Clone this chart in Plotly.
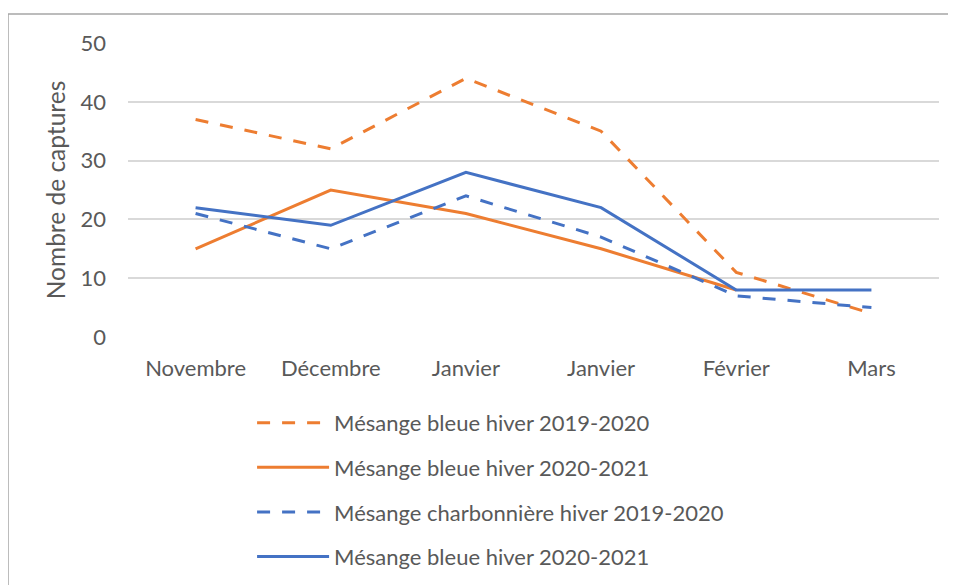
import plotly.graph_objects as go

categories = ["Novembre", "Décembre", "Janvier", "Janvier", "Février", "Mars"]
bleue_2019 = [37, 32, 44, 35, 11, 4]
bleue_2020 = [15, 25, 21, 15, 8, None]
charbon_2019 = [21, 15, 24, 17, 7, 5]
bleue_2020b = [22, 19, 28, 22, 8, 8]
y_ticks = [0, 10, 20, 30, 40, 50]

names = ["Mésange bleue hiver 2019-2020", "Mésange bleue hiver 2020-2021",
         "Mésange charbonnière hiver 2019-2020", "Mésange bleue hiver 2020-2021"]
series = [bleue_2019, bleue_2020, charbon_2019, bleue_2020b]
colors = ["#ED7D31", "#ED7D31", "#4472C4", "#4472C4"]
dashes = ["13px,12px", "solid", "13px,12px", "solid"]

x_idx = list(range(len(categories)))
FONT = "Lato"
GRAY = "#595959"

fig = go.Figure()
for i, (nm, vals, c, d) in enumerate(zip(names, series, colors, dashes)):
    fig.add_trace(go.Scatter(
        x=x_idx, y=vals, name=nm, mode="lines",
        line=dict(color=c, width=3, dash=d),
        legendgroup=f"g{i}", connectgaps=False,
    ))

fig.update_layout(
    width=948, height=577,
    margin=dict(l=120, r=17, t=35, b=248, autoexpand=False),
    paper_bgcolor="white", plot_bgcolor="white",
    font=dict(family=FONT, color=GRAY, size=22),
    showlegend=True,
    legend=dict(
        orientation="v", x=0.153, y=-0.221, xanchor="left", yanchor="top",
        font=dict(size=22, color=GRAY, family=FONT),
        tracegroupgap=13, itemwidth=72,
        bgcolor="rgba(0,0,0,0)",
    ),
    xaxis=dict(
        range=[-0.5, 5.5], tickvals=x_idx, ticktext=categories,
        showgrid=False, zeroline=False, showline=False, ticks="",
        tickfont=dict(size=22, color=GRAY, family=FONT), ticklabelstandoff=16,
        fixedrange=True,
    ),
    yaxis=dict(
        range=[0, 50], tickvals=y_ticks, showgrid=True, gridcolor="#D9D9D9",
        gridwidth=1.5, zeroline=False, showline=False, ticks="",
        tickfont=dict(size=22, color=GRAY, family=FONT), ticklabelstandoff=21,
        title=dict(text="Nombre de captures", font=dict(size=24.5, color=GRAY, family=FONT),
                   standoff=7),
        fixedrange=True,
    ),
)

# chart frame (left and top edges only visible)
fig.add_shape(type="line", xref="paper", yref="paper",
              x0=(8 - 128) / 811, x1=1.03, y0=(337 - 14) / 294, y1=(337 - 14) / 294,
              line=dict(color="#A6A6A6", width=1.5))
fig.add_shape(type="line", xref="paper", yref="paper",
              x0=(8 - 128) / 811, x1=(8 - 128) / 811, y0=(337 - 14) / 294, y1=-1.0,
              line=dict(color="#A6A6A6", width=1.5))

fig.write_html("out.html")
